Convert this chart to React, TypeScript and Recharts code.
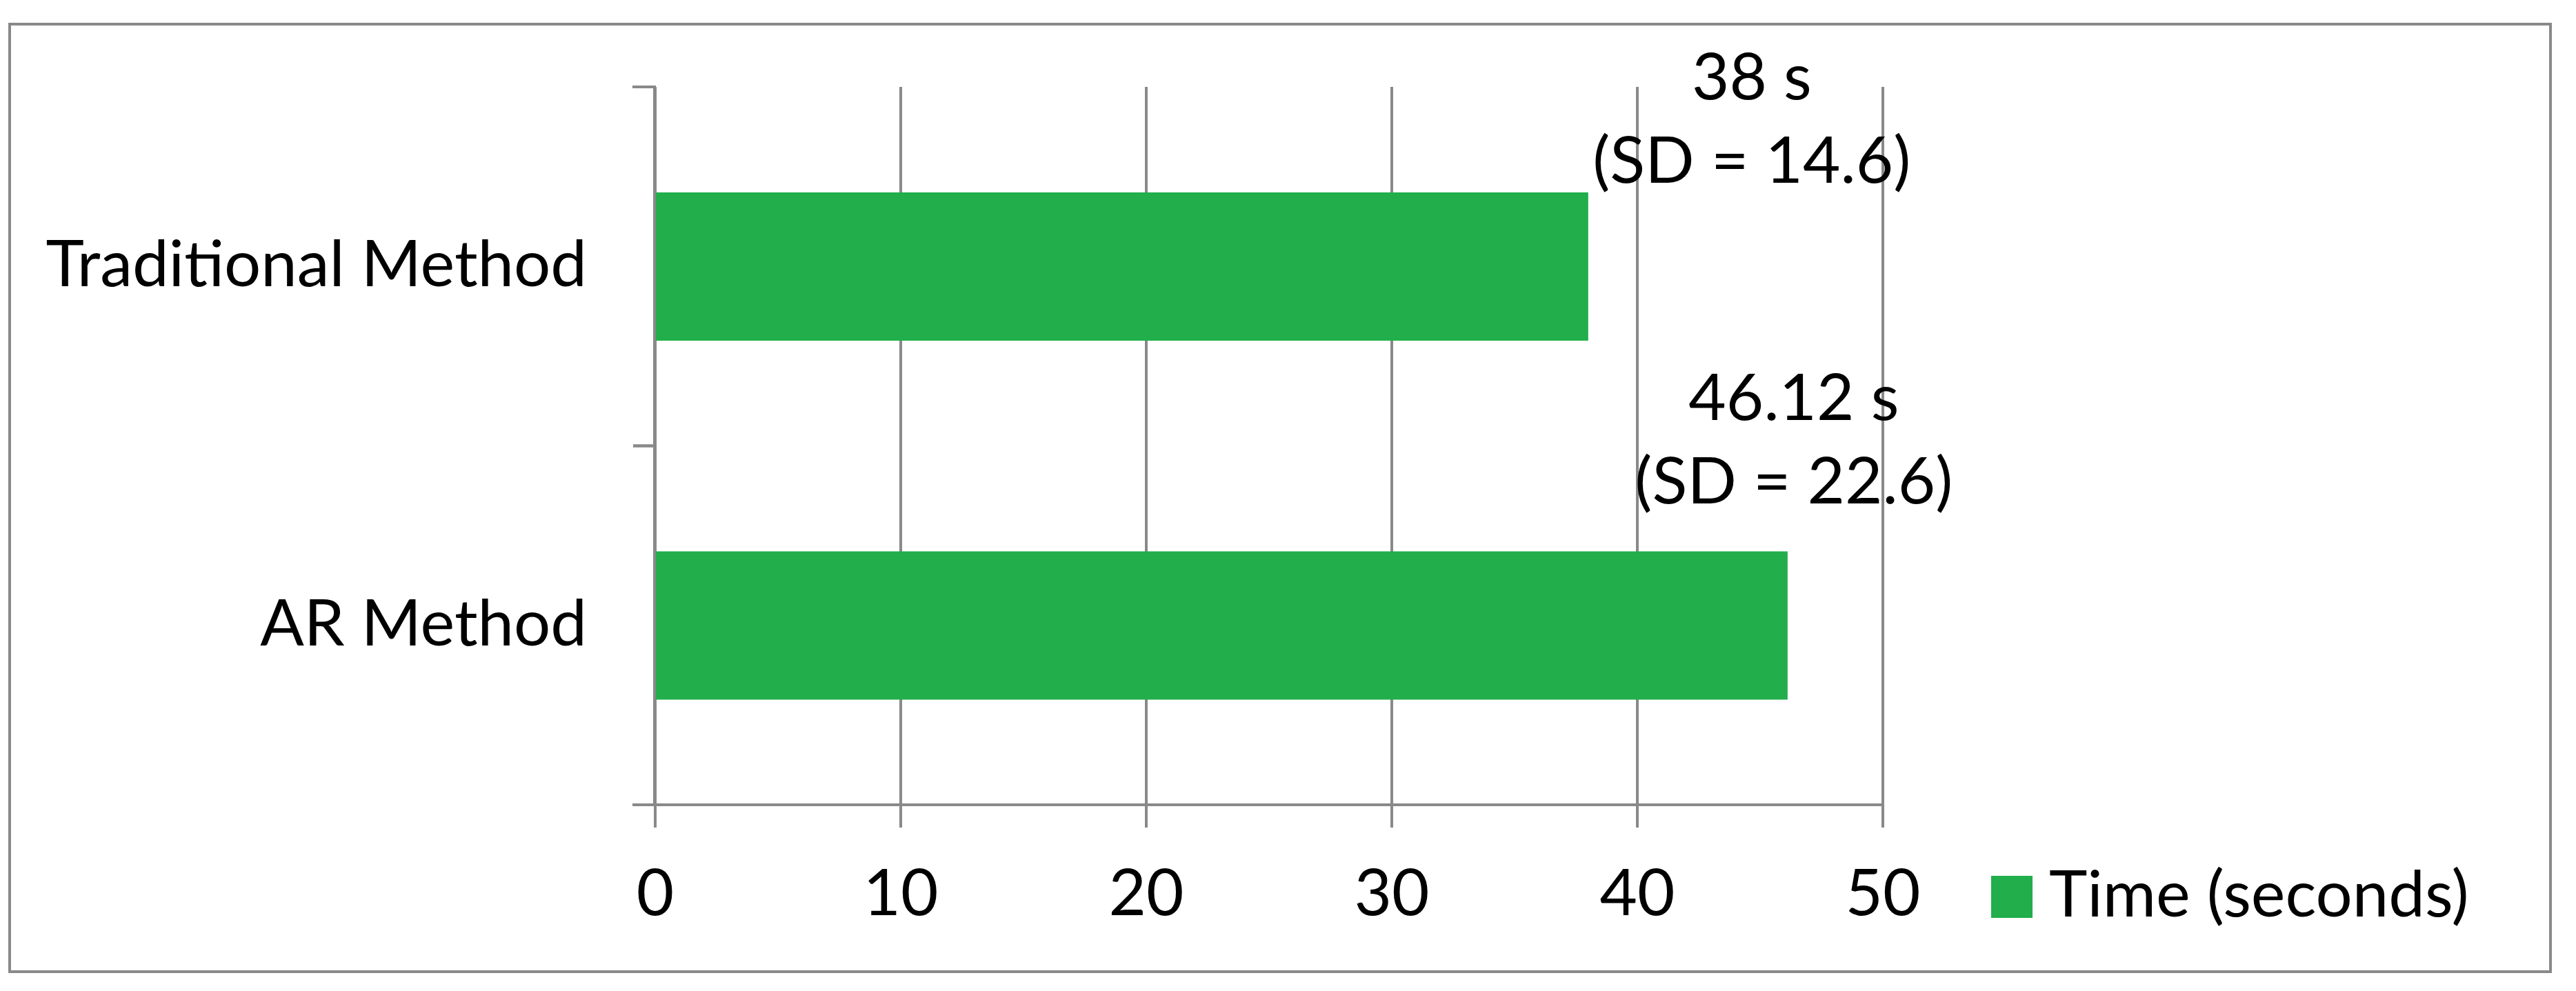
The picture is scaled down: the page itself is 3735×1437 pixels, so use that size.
import React from 'react';
import { BarChart, Bar, XAxis, YAxis, CartesianGrid, Legend, LabelList } from 'recharts';

// ---- data ----
const categories = ['Traditional Method', 'AR Method'];
const timeSeconds = [38, 46.12];
const sdValues = [14.6, 22.6];
const xTicks = [0, 10, 20, 30, 40, 50];
const frameTicks = [0, 1, 2];
const seriesName = 'Time (seconds)';

const data = categories.map((c, i) => ({ name: c, time: timeSeconds[i] }));

// ---- style ----
const FONT = 'Lato, "Open Sans", sans-serif';
const FS = 94;
const GRAY = '#898989';
const GREEN = '#21ae4b';
const LABEL_OFFSETS = [
  { dx: 237, dy: -14 },
  { dx: 9, dy: -70 },
];
const LINE_GAP = 121;
const FRAME_TICK = 32;
const FRAME_MARGIN = 2;
const CAT_MARGIN = 67;

const ValueLabel = (props: any) => {
  const { x, y, width, index, value } = props;
  const off = LABEL_OFFSETS[index] || { dx: 0, dy: 0 };
  const cx = Number(x) + Number(width) + off.dx;
  const b2 = Number(y) + off.dy;
  const b1 = b2 - LINE_GAP;
  return (
    <text textAnchor="middle" fontFamily={FONT} fontSize={FS} fill="#000">
      <tspan x={cx} y={b1}>{`${value} s`}</tspan>
      <tspan x={cx} y={b2}>{`(SD = ${sdValues[index]})`}</tspan>
    </text>
  );
};

const YTick = (props: any) => {
  const { x, y, payload } = props;
  const half = payload && typeof payload.offset === 'number' ? payload.offset : 0;
  const lx = Number(x) + CAT_MARGIN;
  return (
    <g>
      {half > 0 && (
        <>
          <line x1={lx} x2={lx + FRAME_TICK + 1} y1={y - half} y2={y - half} stroke={GRAY} strokeWidth={4} />
          <line x1={lx} x2={lx + FRAME_TICK + 1} y1={y + half} y2={y + half} stroke={GRAY} strokeWidth={4} />
        </>
      )}
      <text x={x} y={y} dy={29} textAnchor="end" fontFamily={FONT} fontSize={FS} fill="#000">
        {payload.value}
      </text>
    </g>
  );
};

const XTick = (props: any) => {
  const { x, y, payload } = props;
  return (
    <text x={x} y={y} dy={127} textAnchor="middle" fontFamily={FONT} fontSize={FS} fill="#000">
      {payload.value}
    </text>
  );
};

const FrameTick = (props: any) => {
  const { x, y } = props;
  const x1 = Number(x) + FRAME_MARGIN;
  return <line x1={x1} x2={x1 + FRAME_TICK + 1} y1={y} y2={y} stroke={GRAY} strokeWidth={4} />;
};

const LegendContent = (props: any) => {
  const item = (props.payload && props.payload[0]) || { value: seriesName, color: GREEN };
  return (
    <svg width={800} height={130} style={{ display: 'block', overflow: 'visible' }}>
      <rect x={0} y={20} width={60} height={61} fill={item.color || GREEN} />
      <text x={84} y={79} fontFamily={FONT} fontSize={FS} fill="#000">
        {item.value}
      </text>
    </svg>
  );
};

export default function App() {
  return (
    <div style={{ position: 'absolute', left: 0, top: 0, width: 3735, height: 1437, background: '#fff' }}>
      <div
        style={{
          position: 'absolute',
          left: 12,
          top: 33,
          width: 3688,
          height: 1378,
          border: `4px solid ${GRAY}`,
          boxSizing: 'border-box',
        }}
      />
      <BarChart
        width={3735}
        height={1437}
        data={data}
        layout="vertical"
        margin={{ top: 126, right: 1005, bottom: 269, left: 948 }}
        style={{ position: 'absolute', left: 0, top: 0 }}
      >
        <CartesianGrid horizontal={false} vertical stroke={GRAY} strokeWidth={4} yAxisId="cat" />
        <XAxis
          type="number"
          domain={[0, 50]}
          ticks={xTicks}
          interval={0}
          height={1}
          tickSize={33}
          tickMargin={0}
          axisLine={{ stroke: GRAY, strokeWidth: 4 }}
          tickLine={{ stroke: GRAY, strokeWidth: 4 }}
          tick={XTick}
        />
        <YAxis
          yAxisId="cat"
          type="category"
          dataKey="name"
          width={1}
          tickSize={FRAME_TICK}
          tickMargin={CAT_MARGIN}
          axisLine={false}
          tickLine={false}
          tick={YTick}
        />
        <YAxis
          yAxisId="frame"
          type="number"
          domain={[0, 2]}
          ticks={frameTicks}
          interval={0}
          width={1}
          tickSize={FRAME_TICK}
          tickMargin={FRAME_MARGIN}
          tick={FrameTick}
          axisLine={{ stroke: GRAY, strokeWidth: 4 }}
          tickLine={{ stroke: GRAY, strokeWidth: 4 }}
        />
        <Legend
          layout="horizontal"
          verticalAlign="middle"
          align="center"
          wrapperStyle={{ left: 2887, top: 1250, width: 800, height: 130 }}
          content={LegendContent}
        />
        <Bar yAxisId="cat" dataKey="time" name={seriesName} fill={GREEN} barSize={215} isAnimationActive={false}>
          <LabelList dataKey="time" content={ValueLabel} />
        </Bar>
      </BarChart>
    </div>
  );
}
